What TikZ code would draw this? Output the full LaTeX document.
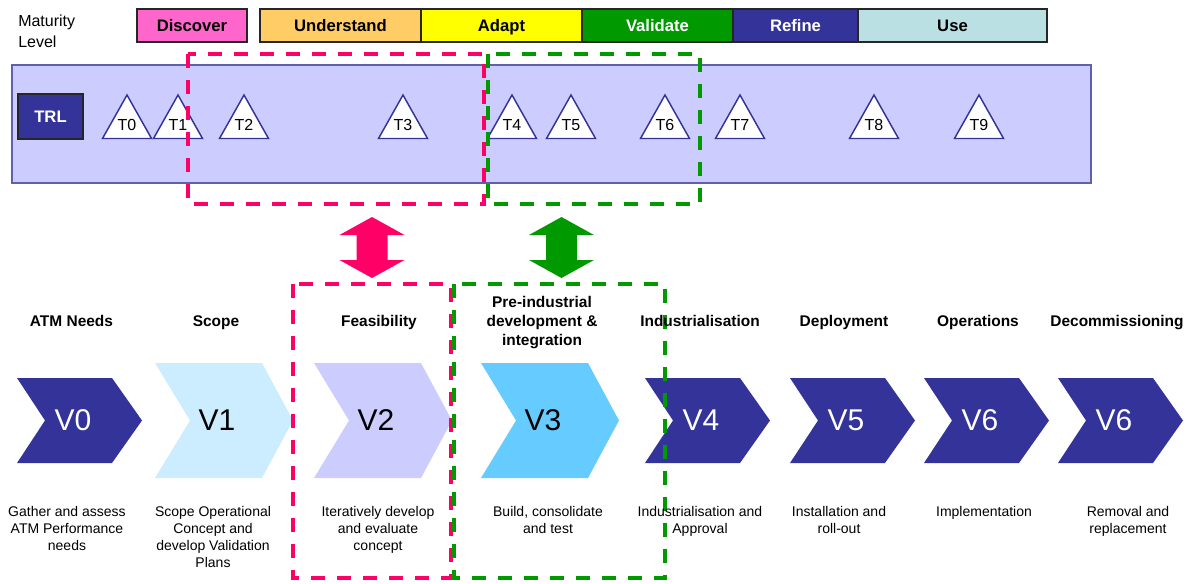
\documentclass[tikz,border=0pt]{standalone}
\usepackage{fontspec}
\setmainfont{Liberation Sans}
\usepackage{xcolor}
\usepackage{tikz}

\definecolor{discover}{RGB}{255,102,204}
\definecolor{understand}{RGB}{255,204,102}
\definecolor{adapt}{RGB}{255,255,0}
\definecolor{validate}{RGB}{0,153,0}
\definecolor{refine}{RGB}{51,51,153}
\definecolor{use}{RGB}{187,224,228}
\definecolor{trlband}{RGB}{204,204,255}
\definecolor{trledge}{RGB}{96,96,176}
\definecolor{vone}{RGB}{204,236,255}
\definecolor{vtwo}{RGB}{204,204,255}
\definecolor{vthree}{RGB}{102,204,255}
\definecolor{pinkdash}{RGB}{255,0,102}
\definecolor{greendash}{RGB}{0,153,0}

\tikzset{
  mbox/.style={draw=black!85, line width=1.5},
  mtext/.style={anchor=base, inner sep=0.75pt, font=\bfseries\fontsize{12.5}{15}\selectfont},
  ttri/.style={fill=white, draw=refine, line width=1.1, line join=miter},
  tlabel/.style={inner sep=0.75pt, font=\fontsize{12}{14}\selectfont},
  stage/.style={anchor=base, inner sep=0.75pt, align=center, font=\bfseries\fontsize{11.6}{14.25}\selectfont},
  vlabel/.style={inner sep=0.75pt, font=\fontsize{22.5}{26}\selectfont},
  desc/.style={anchor=base, inner sep=0.75pt, align=center, font=\fontsize{10.5}{12.75}\selectfont},
  phase/.style={line width=3, dash pattern=on 10.5pt off 9pt}
}

\begin{document}
\begin{tikzpicture}[x=0.75pt,y=0.75pt,yscale=-1,xscale=1]
\useasboundingbox (0,0) rectangle (1197,583);

% Text Node
\node [anchor=west, align=left, inner sep=0.75pt, font=\fontsize{12}{15.75}\selectfont] (maturity) at (17,31.5) {Maturity\\Level};

%Shape: Rectangle (maturity levels)
\draw [mbox, fill=discover] (137,9) rectangle (247,42);
\draw [mbox, fill=understand] (260,9) rectangle (421,42);
\draw [mbox, fill=adapt] (421,9) rectangle (582,42);
\draw [mbox, fill=validate] (582,9) rectangle (733,42);
\draw [mbox, fill=refine] (733,9) rectangle (858,42);
\draw [mbox, fill=use] (858,9) rectangle (1047,42);
% Text Node
\node [mtext] (discover) at (192,31.5) {Discover};
\node [mtext] (understand) at (340.5,31.5) {Understand};
\node [mtext] (adapt) at (501.5,31.5) {Adapt};
\node [mtext, text=white] (validate) at (657.5,31.5) {Validate};
\node [mtext, text=white] (refine) at (795.5,31.5) {Refine};
\node [mtext] (use) at (952.5,31.5) {Use};

%Shape: Rectangle (TRL band)
\draw [fill=trlband, draw=trledge, line width=1.1] (12,65) rectangle (1091,183);
\draw [fill=refine, draw=black!85, line width=1.5] (18,94) rectangle (83,139);
\node [inner sep=0.75pt, text=white, font=\bfseries\fontsize{12.5}{15}\selectfont] (trl) at (50.5,116.5) {TRL};

%Shape: Triangles
\foreach \n/\x in {0/127,1/178,2/244,3/403,4/512,5/571,6/665,7/740,8/874,9/979}{
  \draw [ttri] (\x,95) -- (\x+24.5,138.5) -- (\x-24.5,138.5) -- cycle;
  \node [tlabel] (t\n) at (\x,125) {T\n};
}

%Shape: Chevrons (small)
\foreach \name/\x/\t in {v0/17/V0,v4/645/V4,v5/790/V5,v6/924/V6,v7/1058/V6}{
  \fill [refine] (\x,378) -- (\x+95,378) -- (\x+125,420.5) -- (\x+95,463) -- (\x,463) -- (\x+28,420.5) -- cycle;
  \node [vlabel, text=white] (\name) at (\x+56,420.5) {\t};
}
%Shape: Chevrons (large)
\foreach \name/\x/\c/\t in {v1/155/vone/V1,v2/314/vtwo/V2,v3/481/vthree/V3}{
  \fill [\c] (\x,363) -- (\x+107,363) -- (\x+138,420.5) -- (\x+107,478) -- (\x,478) -- (\x+35,420.5) -- cycle;
  \node [vlabel] (\name) at (\x+62,420.5) {\t};
}

%Shape: Double arrows
\foreach \x/\c in {372/pinkdash,561.5/greendash}{
  \fill [\c] (\x,217) -- (\x+32.5,235) -- (\x+15.5,235) -- (\x+15.5,260) -- (\x+32.5,260) -- (\x,278)
    -- (\x-32.5,260) -- (\x-15.5,260) -- (\x-15.5,235) -- (\x-32.5,235) -- cycle;
}

%Shape: Dashed frames
\draw [phase, draw=pinkdash] (188,54) rectangle (484,204);
\draw [phase, draw=greendash] (488,54) rectangle (700,204);
\draw [phase, draw=pinkdash] (293,284) rectangle (451,578);
\draw [phase, draw=greendash] (454,284) rectangle (665,578);

% Text Node (phases)
\foreach \name/\x/\t in {atm/71.5/ATM Needs,scope/216/Scope,feas/379/Feasibility,indus/700/Industrialisation,deploy/844/Deployment,oper/978/Operations,decom/1117/Decommissioning}{
  \node [stage] (\name) at (\x,326.5) {\t};
}
\node [stage] (preind) at (542,345.5) {Pre-industrial\\development \&\\integration};

% Text Node (descriptions)
\node [desc] (gather) at (67,550) {Gather and assess\\ATM Performance\\needs};
\node [desc] (scopedesc) at (213,567) {Scope Operational\\Concept and\\develop Validation\\Plans};
\node [desc] (iter) at (378,550) {Iteratively develop\\and evaluate\\concept};
\node [desc] (build) at (548,533) {Build, consolidate\\and test};
\node [desc] (approval) at (700,533) {Industrialisation and\\Approval};
\node [desc] (install) at (839,533) {Installation and\\roll-out};
\node [desc] (impl) at (984,516) {Implementation};
\node [desc] (removal) at (1128,533) {Removal and\\replacement};
\end{tikzpicture}
\end{document}
